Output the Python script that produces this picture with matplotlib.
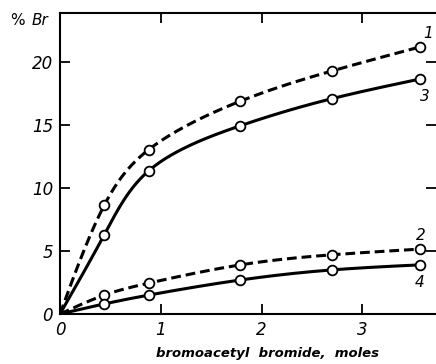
import matplotlib
matplotlib.use("Agg")
import matplotlib.pyplot as plt
import numpy as np

# bromoacetyl bromide (moles) vs % Br
moles = [0.0, 0.44, 0.88, 1.79, 2.70, 3.57]
curve_1 = [0.0, 8.65, 13.05, 16.9, 19.3, 21.2]   # dashed
curve_3 = [0.0, 6.3, 11.37, 14.95, 17.1, 18.65]  # solid
curve_2 = [0.0, 1.5, 2.45, 3.9, 4.7, 5.15]       # dashed
curve_4 = [0.0, 0.8, 1.5, 2.7, 3.5, 3.9]         # solid

x_ticks = [0, 1, 2, 3]
y_ticks = [0, 5, 10, 15, 20]


def spline1d(ts, vs, tt):
    # natural cubic spline
    k = len(ts)
    h = np.diff(ts)
    A = np.zeros((k, k))
    r = np.zeros(k)
    A[0, 0] = A[-1, -1] = 1.0
    for i in range(1, k - 1):
        A[i, i - 1] = h[i - 1]
        A[i, i] = 2 * (h[i - 1] + h[i])
        A[i, i + 1] = h[i]
        r[i] = 6 * ((vs[i + 1] - vs[i]) / h[i] - (vs[i] - vs[i - 1]) / h[i - 1])
    M = np.linalg.solve(A, r)
    idx = np.clip(np.searchsorted(ts, tt) - 1, 0, k - 2)
    a = ts[idx + 1] - tt
    b = tt - ts[idx]
    hi = h[idx]
    return (M[idx] * a**3 / (6 * hi) + M[idx + 1] * b**3 / (6 * hi)
            + (vs[idx] / hi - M[idx] * hi / 6) * a
            + (vs[idx + 1] / hi - M[idx + 1] * hi / 6) * b)


def smooth(xs, ys, n=300):
    """parametric spline (centripetal, in screen-like units) just for drawing"""
    xs = np.asarray(xs, float)
    ys = np.asarray(ys, float)
    px, py = xs * 100.7, ys * 12.6
    seg = np.sqrt(np.hypot(np.diff(px), np.diff(py)))
    ts = np.concatenate([[0], np.cumsum(seg)])
    tt = np.linspace(0, ts[-1], n)
    return spline1d(ts, xs, tt), spline1d(ts, ys, tt)


fig = plt.figure(figsize=(4.36, 3.64), dpi=100)
ax = fig.add_axes([0.1376, 0.1374, 0.8624, 0.827])

for ys, style in [(curve_1, (0, (3.2, 1.6))), (curve_3, '-'),
                  (curve_2, (0, (3.2, 1.6))), (curve_4, '-')]:
    sx, sy = smooth(moles, ys)
    ax.plot(sx, sy, color='black', linewidth=2.2, linestyle=style, zorder=2)
    ax.plot(moles[1:], ys[1:], 'o', markersize=7, markerfacecolor='white',
            markeredgecolor='black', markeredgewidth=1.3, zorder=3)

# curve numbers
ax.text(3.65, 22.3, '1', fontsize=11, style='italic', ha='center', va='center')
ax.text(3.62, 17.3, '3', fontsize=11, style='italic', ha='center', va='center')
ax.text(3.58, 6.2, '2', fontsize=11, style='italic', ha='center', va='center')
ax.text(3.57, 2.5, '4', fontsize=11, style='italic', ha='center', va='center')

ax.set_xlim(0, 3.73)
ax.set_ylim(0, 23.9)
ax.set_xticks(x_ticks)
ax.set_yticks(y_ticks)
ax.tick_params(direction='in', length=7, width=1.3, top=True, right=True,
               labelsize=12, pad=5)
for lab in ax.get_xticklabels() + ax.get_yticklabels():
    lab.set_fontstyle('italic')
for side in ['left', 'bottom', 'top']:
    ax.spines[side].set_linewidth(1.5)
ax.spines['right'].set_visible(False)

fig.text(0.023, 0.945, '%', fontsize=11, ha='left', va='center')
fig.text(0.073, 0.945, 'Br', fontsize=11, style='italic', ha='left', va='center')
fig.text(0.613, 0.03, 'bromoacetyl  bromide,  moles', fontsize=9.5,
         style='italic', fontweight='bold', ha='center', va='center')

fig.savefig('out.png', dpi=100)
